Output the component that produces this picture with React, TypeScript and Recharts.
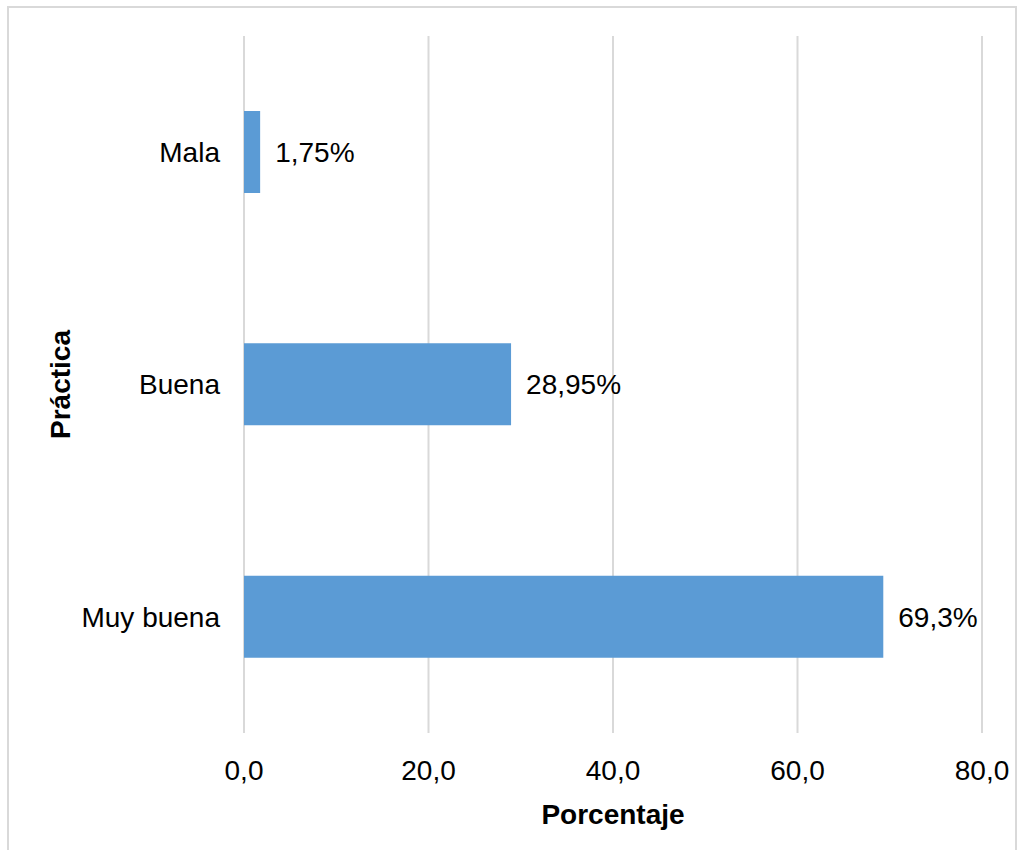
import { BarChart, Bar, XAxis, YAxis, CartesianGrid, LabelList } from 'recharts'

const categories = ['Mala', 'Buena', 'Muy buena']
const percentages = [1.75, 28.95, 69.3]
const valueLabels = ['1,75%', '28,95%', '69,3%']
const xTicks = [0, 20, 40, 60, 80]

const chartData = categories.map((name, i) => ({
  name,
  value: percentages[i],
  label: valueLabels[i],
}))

const font = '"Liberation Sans", Arial, sans-serif'

export default function App() {
  return (
    <div
      style={{
        position: 'absolute',
        left: 7,
        top: 6,
        width: 1010,
        height: 846,
        border: '2px solid #d9d9d9',
        boxSizing: 'border-box',
        background: '#fff',
        fontFamily: font,
      }}
    >
      <BarChart
        width={1006}
        height={842}
        data={chartData}
        layout="vertical"
        margin={{ top: 28, right: 33, bottom: 0, left: 0 }}
        barSize={82}
      >
        <CartesianGrid vertical horizontal={false} stroke="#d9d9d9" strokeWidth={2} />
        <XAxis
          type="number"
          domain={[0, 80]}
          ticks={xTicks}
          tickFormatter={(v: number) => v.toFixed(1).replace('.', ',')}
          axisLine={false}
          tickLine={false}
          tickSize={0}
          tickMargin={27}
          height={117}
          tick={{ fontSize: 28, fill: '#000', fontFamily: font }}
          label={{
            value: 'Porcentaje',
            position: 'insideBottom',
            offset: 26,
            style: { fontSize: 28, fontWeight: 'bold', fill: '#000', fontFamily: font },
          }}
        />
        <YAxis
          type="category"
          dataKey="name"
          width={235}
          axisLine={false}
          tickLine={false}
          tickSize={0}
          tickMargin={24}
          tick={{ fontSize: 28, fill: '#000', fontFamily: font }}
          label={{
            value: 'Práctica',
            angle: -90,
            position: 'center',
            dx: -66,
            style: { fontSize: 28, fontWeight: 'bold', fill: '#000', fontFamily: font },
          }}
        />
        <Bar dataKey="value" fill="#5b9bd5" isAnimationActive={false}>
          <LabelList
            dataKey="label"
            position="right"
            offset={15}
            style={{ fontSize: 28, fill: '#000', fontFamily: font }}
          />
        </Bar>
      </BarChart>
    </div>
  )
}
